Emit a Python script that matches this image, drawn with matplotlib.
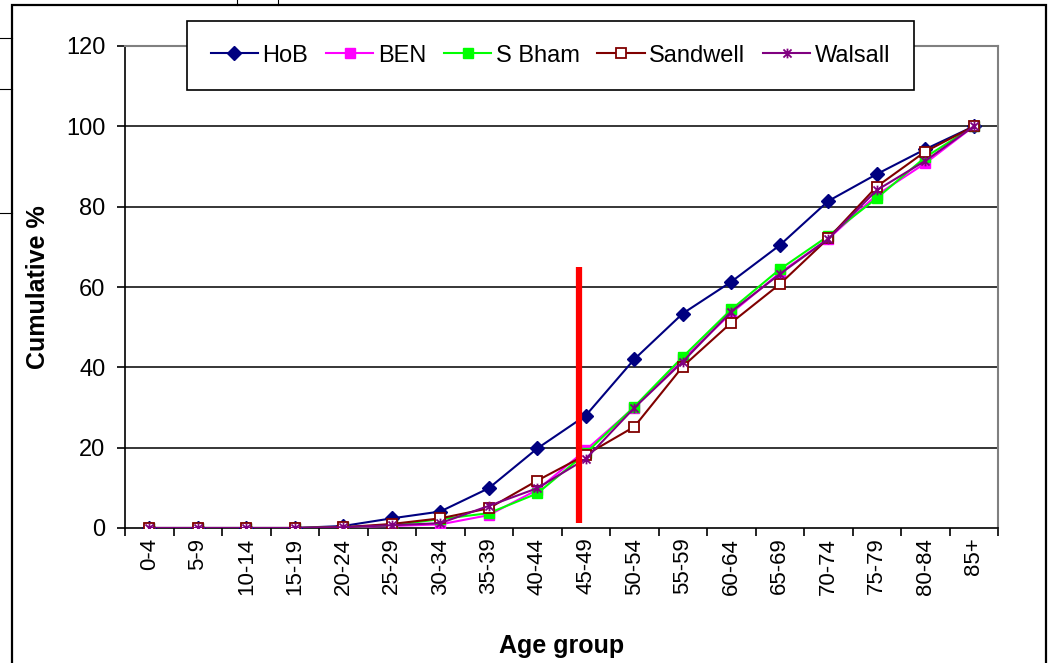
import matplotlib
matplotlib.use("Agg")
import matplotlib.pyplot as plt
from matplotlib.path import Path
from matplotlib.lines import Line2D
from matplotlib.patches import Rectangle

plt.rcParams["font.family"] = ["Liberation Sans", "DejaVu Sans"]

age_groups = ["0-4", "5-9", "10-14", "15-19", "20-24", "25-29", "30-34",
              "35-39", "40-44", "45-49", "50-54", "55-59", "60-64", "65-69",
              "70-74", "75-79", "80-84", "85+"]
hob = [0, 0, 0, 0, 0.5, 2.4, 4.1, 9.9, 19.8, 28.0, 42.0, 53.4, 61.3, 70.4,
       81.4, 88.1, 94.3, 100]
ben = [0, 0, 0, 0, 0.2, 0.5, 0.9, 3.2, 9.5, 19.4, 30.0, 42.0, 53.5, 63.5,
       72.0, 82.9, 90.8, 100]
s_bham = [0, 0, 0, 0, 0.2, 0.7, 2.2, 3.7, 8.6, 18.6, 30.2, 42.6, 54.4, 64.4,
          72.7, 82.1, 92.3, 100]
sandwell = [0, 0, 0, 0, 0.2, 1.0, 2.4, 4.9, 11.8, 18.2, 25.2, 40.2, 51.1,
            60.7, 72.1, 85.0, 93.7, 100]
walsall = [0, 0, 0, 0, 0.2, 0.7, 1.2, 5.5, 9.9, 17.2, 29.9, 41.4, 53.9, 63.2,
           72.0, 84.1, 91.4, 100]

# red marker line (category position, y range)
cut_x = 8.87
cut_y = [1.2, 65]

# Excel-style asterisk marker
star = Path([(-1, -1), (1, 1), (-1, 1), (1, -1), (0, -1.2), (0, 1.2)],
            [Path.MOVETO, Path.LINETO, Path.MOVETO, Path.LINETO,
             Path.MOVETO, Path.LINETO])

W, H = 1048, 663
fig = plt.figure(figsize=(W / 100, H / 100), dpi=100)
ax = fig.add_axes([125 / W, 1 - 528 / H, (998 - 125) / W, (528 - 46) / H])

x = list(range(len(age_groups)))
series = [
    ("HoB", hob, dict(color="#000080", marker="D", ms=7, mfc="#000080",
                      mec="#000080")),
    ("BEN", ben, dict(color="#FF00FF", marker="s", ms=6.5, mfc="#FF00FF",
                      mec="#FF00FF")),
    ("S Bham", s_bham, dict(color="#00FF00", marker="s", ms=6.5,
                            mfc="#00FF00", mec="#00FF00")),
    ("Sandwell", sandwell, dict(color="#800000", marker="s", ms=7,
                                mfc="white", mec="#800000", mew=1.3)),
    ("Walsall", walsall, dict(color="#800080", marker=star, ms=7,
                              mec="#800080", mew=1.3)),
]
for name, vals, kw in series:
    ax.plot(x, vals, lw=1.5, label=name, zorder=3, **kw)

ax.plot([cut_x, cut_x], cut_y, color="#FF0000", lw=4.5, zorder=4,
        solid_capstyle="butt")

ax.set_xlim(-0.5, len(age_groups) - 0.5)
ax.set_ylim(0, 120)
ax.set_yticks(range(0, 121, 20))
ax.set_xticks(x)
ax.set_xticklabels(age_groups, rotation=90, fontsize=16)
ax.set_xticks([i - 0.5 for i in range(len(age_groups) + 1)], minor=True)
ax.tick_params(axis="x", which="major", length=0, pad=7)
ax.tick_params(axis="x", which="minor", length=6, width=1.2, direction="out")
ax.tick_params(axis="y", length=6, width=1.2, direction="out", pad=8,
               labelsize=17)

for yv in range(20, 101, 20):
    ax.axhline(yv, color="black", lw=1.1, zorder=1)

ax.spines["left"].set_color("black")
ax.spines["bottom"].set_color("black")
ax.spines["left"].set_linewidth(1.2)
ax.spines["bottom"].set_linewidth(1.2)
ax.spines["top"].set_color("#808080")
ax.spines["right"].set_color("#808080")
ax.spines["top"].set_linewidth(1.5)
ax.spines["right"].set_linewidth(1.5)

ax.set_xlabel("Age group", fontsize=18, fontweight="bold", labelpad=28)
ax.set_ylabel("Cumulative %", fontsize=18, fontweight="bold", labelpad=12)

leg = ax.legend(loc="upper left", bbox_to_anchor=(187 / W, 1 - 21 / H),
                bbox_transform=fig.transFigure, borderaxespad=0, ncol=5,
                fontsize=17, handlelength=2.0, handletextpad=0.2,
                columnspacing=0.75, borderpad=1.0, fancybox=False,
                framealpha=1, edgecolor="black")
leg.get_frame().set_linewidth(1.2)

# outer chart border and spreadsheet cell lines
fig.patches.append(Rectangle((12 / W, -0.05), (1046 - 12) / W,
                             1.05 - 5 / H, transform=fig.transFigure,
                             fill=False, edgecolor="black", lw=1.6))
for yp in (38, 89, 213):
    fig.lines.append(Line2D([0, 12 / W], [1 - yp / H] * 2,
                            transform=fig.transFigure, color="black", lw=0.8))
for xp in (237, 278):
    fig.lines.append(Line2D([xp / W] * 2, [1, 1 - 5 / H],
                            transform=fig.transFigure, color="black", lw=0.8))

fig.savefig("out.png", dpi=100)
